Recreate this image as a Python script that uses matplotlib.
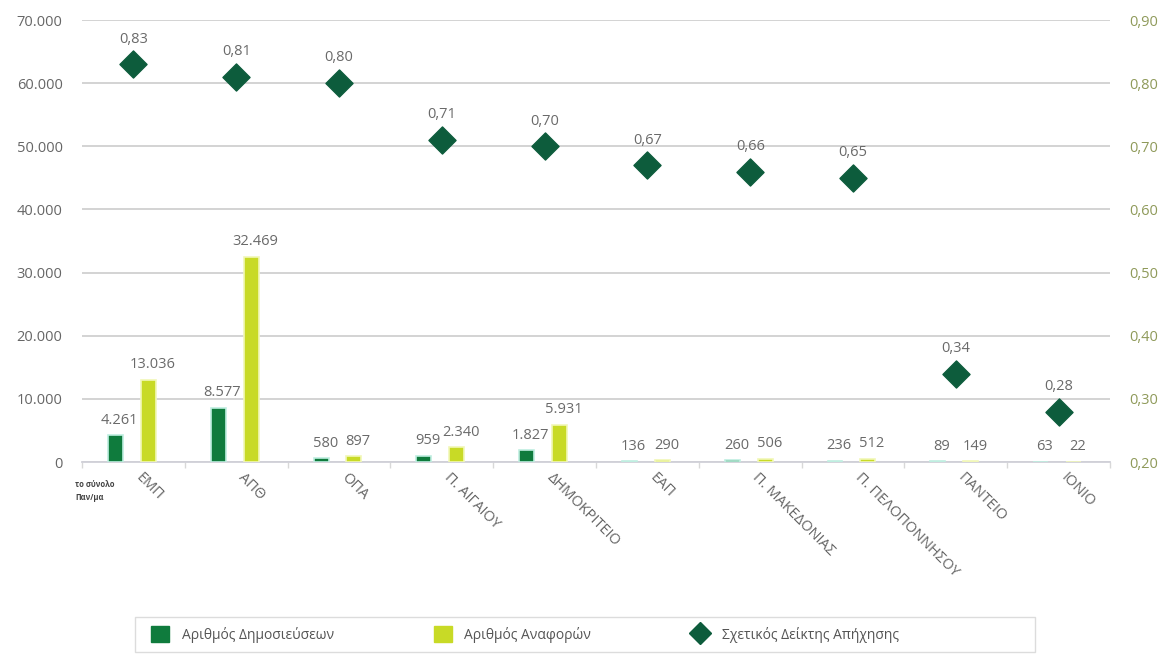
import matplotlib
matplotlib.use("Agg")
import matplotlib.pyplot as plt
import numpy as np
from matplotlib.lines import Line2D
from matplotlib.patches import Patch, Rectangle

plt.rcParams['font.family'] = ['Open Sans', 'DejaVu Sans']

categories = ["ΕΜΠ", "ΑΠΘ", "ΟΠΑ", "Π. ΑΙΓΑΙΟΥ", "ΔΗΜΟΚΡΙΤΕΙΟ", "ΕΑΠ",
              "Π. ΜΑΚΕΔΟΝΙΑΣ", "Π. ΠΕΛΟΠΟΝΝΗΣΟΥ", "ΠΑΝΤΕΙΟ", "ΙΟΝΙΟ"]
publications = [4261, 8577, 580, 959, 1827, 136, 260, 236, 89, 63]
citations = [13036, 32469, 897, 2340, 5931, 290, 506, 512, 149, 22]
index_vals = [0.83, 0.81, 0.80, 0.71, 0.70, 0.67, 0.66, 0.65, 0.34, 0.28]

left_ticks = [0, 10000, 20000, 30000, 40000, 50000, 60000, 70000]
right_ticks = [0.20, 0.30, 0.40, 0.50, 0.60, 0.70, 0.80, 0.90]

c_pub = "#0f7b3d"
c_cit = "#c8da26"
c_idx = "#0d5c3c"
c_txt = "#6a6a6a"

def fmt_int(v):
    return f"{v:,}".replace(",", ".")

fig = plt.figure(figsize=(11.59, 6.56), dpi=100)
ax = fig.add_axes([0.0708, 0.2957, 0.8869, 0.6738])
ax2 = ax.twinx()

x = np.arange(len(categories))
w = 0.145
off_p = -0.175
off_c = 0.145

ax.bar(x + off_p, publications, width=w, color=c_pub, edgecolor="#bfeee0", linewidth=1.2, zorder=3)
ax.bar(x + off_c, citations, width=w, color=c_cit, edgecolor="#f1f7b8", linewidth=1.2, zorder=3)

for i in range(len(categories)):
    ax.text(x[i] + off_p + 0.04, publications[i] + 1200, fmt_int(publications[i]),
            ha="center", va="bottom", fontsize=10.5, color=c_txt, zorder=5)
    ax.text(x[i] + off_c + 0.04, citations[i] + 1200, fmt_int(citations[i]),
            ha="center", va="bottom", fontsize=10.5, color=c_txt, zorder=5)

ax.set_xlim(-0.5, len(categories) - 0.5)
ax.set_ylim(0, 70000)
ax.set_yticks(left_ticks)
ax.set_yticklabels([fmt_int(t) for t in left_ticks])
ax.grid(axis="y", color="#d0d0d0", linewidth=1.3, zorder=0)
ax.set_axisbelow(True)

ax2.scatter(x, index_vals, marker="D", s=190, color=c_idx, zorder=6)
for i in range(len(categories)):
    ax2.text(x[i], index_vals[i] + 0.028, f"{index_vals[i]:.2f}".replace(".", ","),
             ha="center", va="bottom", fontsize=10.5, color=c_txt)
ax2.set_ylim(0.20, 0.90)
ax2.set_yticks(right_ticks)
ax2.set_yticklabels([f"{t:.2f}".replace(".", ",") for t in right_ticks])

for a in (ax, ax2):
    for s in a.spines.values():
        s.set_visible(False)
ax.spines["bottom"].set_visible(True)
ax.spines["bottom"].set_color("#d0d0d8")
ax.spines["bottom"].set_linewidth(1.3)

ax.tick_params(axis="y", length=0, pad=14, labelsize=10.5, labelcolor="#666666")
ax2.tick_params(axis="y", length=0, pad=14, labelsize=10.5, labelcolor="#8f9a5a")

ax.set_xticks(np.arange(-0.5, len(categories), 1.0), minor=False)
ax.set_xticklabels([])
ax.tick_params(axis="x", length=4, color="#d8d8d8", width=1)

for i, name in enumerate(categories):
    ax.annotate(name, xy=(x[i], 0), xycoords="data", xytext=(7, -6),
                textcoords="offset points", rotation=-45, rotation_mode="anchor",
                ha="left", va="top", fontsize=10.5, color="#666666")

fig.text(0.065, 0.268, "το σύνολο\nΠαν/μα", fontsize=5.5, color="#444444",
         fontweight="bold", ha="left", va="top", linespacing=1.6)

# legend frame
fig.add_artist(Rectangle((135 / 1159, 1 - 652 / 656), 900 / 1159, 35 / 656,
                         transform=fig.transFigure, facecolor="white",
                         edgecolor="#dcdcdc", linewidth=1.0, zorder=1))

handles = [Patch(facecolor=c_pub, edgecolor=c_pub),
           Patch(facecolor=c_cit, edgecolor=c_cit),
           Line2D([], [], marker="D", linestyle="none", color=c_idx, markersize=11)]
labels = ["Αριθμός Δημοσιεύσεων", "Αριθμός Αναφορών", "Σχετικός Δείκτης Απήχησης"]
leg = fig.legend(handles, labels, loc="center left",
                 bbox_to_anchor=(140 / 1159, 1 - 634.5 / 656),
                 ncol=3, frameon=False, fontsize=10, handlelength=1.3, handleheight=1.3,
                 columnspacing=7.2, borderpad=0.3, handletextpad=0.9)
leg.set_zorder(2)
for t in leg.get_texts():
    t.set_color("#555555")

fig.savefig("out.png", dpi=100)
